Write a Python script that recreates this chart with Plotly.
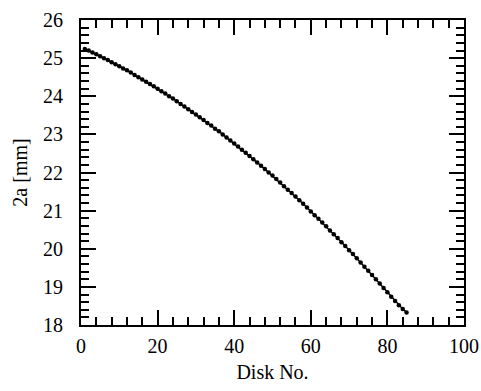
import plotly.graph_objects as go

disk_no = list(range(1, 86))
two_a_mm = [
    25.24, 25.20, 25.15, 25.10, 25.05, 25.00, 24.95, 24.89, 24.84, 24.79,
    24.73, 24.68, 24.62, 24.56, 24.50, 24.44, 24.38, 24.32, 24.26, 24.20,
    24.13, 24.07, 24.00, 23.94, 23.87, 23.80, 23.73, 23.66, 23.59, 23.52,
    23.45, 23.38, 23.30, 23.23, 23.15, 23.08, 23.00, 22.92, 22.84, 22.76,
    22.68, 22.60, 22.52, 22.43, 22.35, 22.26, 22.18, 22.09, 22.00, 21.92,
    21.83, 21.74, 21.64, 21.55, 21.46, 21.37, 21.27, 21.18, 21.08, 20.98,
    20.88, 20.79, 20.69, 20.59, 20.48, 20.38, 20.28, 20.17, 20.07, 19.96,
    19.86, 19.75, 19.64, 19.53, 19.42, 19.31, 19.20, 19.09, 18.97, 18.86,
    18.74, 18.63, 18.52, 18.42, 18.33,
]
x_title = "Disk No."
y_title = "2a [mm]"

font = dict(family="Liberation Serif", size=20, color="black")

fig = go.Figure()
fig.add_trace(go.Scatter(
    x=disk_no, y=two_a_mm, mode="lines+markers",
    line=dict(color="black", width=1.5),
    marker=dict(color="black", size=4.5),
    showlegend=False,
))

axis_common = dict(
    showline=True, linecolor="black", linewidth=2, mirror="ticks",
    ticks="inside", tickcolor="black", tickwidth=2, ticklen=15,
    showgrid=False, zeroline=False, automargin=False,
    tickfont=font,
)

fig.update_xaxes(
    range=[0, 100], dtick=20, tick0=0,
    minor=dict(dtick=4, ticks="inside", ticklen=8, tickwidth=2, tickcolor="black"),
    title=dict(text=x_title, font=font, standoff=9),
    ticklabelstandoff=2,
    **axis_common,
)
fig.update_yaxes(
    range=[18, 26], dtick=1, tick0=18,
    minor=dict(dtick=0.2, ticks="inside", ticklen=8, tickwidth=2, tickcolor="black"),
    title=dict(text=y_title, font=font, standoff=10),
    ticklabelstandoff=12,
    **axis_common,
)

fig.update_layout(
    width=481, height=391,
    margin=dict(l=81, r=17, t=20, b=66),
    paper_bgcolor="white", plot_bgcolor="white",
    font=font,
)

fig.write_html("out.html")
